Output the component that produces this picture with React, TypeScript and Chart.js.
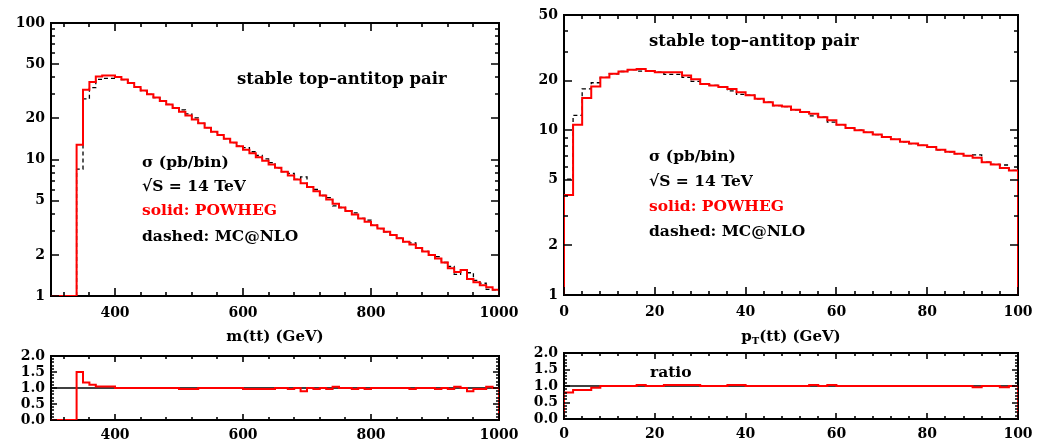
import React, { useEffect, useRef } from "react";
import { Chart, registerables } from "chart.js";
Chart.register(...registerables);

// ---------------- data ----------------
const MTT_BIN_LOW = [340, 350, 360, 370, 380, 390, 400, 410, 420, 430, 440, 450, 460, 470, 480, 490, 500, 510, 520, 530, 540, 550, 560, 570, 580, 590, 600, 610, 620, 630, 640, 650, 660, 670, 680, 690, 700, 710, 720, 730, 740, 750, 760, 770, 780, 790, 800, 810, 820, 830, 840, 850, 860, 870, 880, 890, 900, 910, 920, 930, 940, 950, 960, 970, 980, 990];
const MTT_POWHEG = [12.8, 32.5, 37.0, 40.5, 41.3, 41.3, 40.3, 38.5, 36.3, 34.0, 32.0, 30.0, 28.4, 26.8, 25.3, 23.8, 22.4, 21.0, 19.6, 18.4, 17.1, 16.0, 15.1, 14.2, 13.3, 12.5, 11.8, 11.1, 10.4, 9.8, 9.2, 8.7, 8.15, 7.65, 7.15, 6.7, 6.3, 5.85, 5.45, 5.1, 4.75, 4.45, 4.2, 3.95, 3.7, 3.5, 3.3, 3.12, 2.95, 2.8, 2.65, 2.5, 2.38, 2.25, 2.12, 2.0, 1.88, 1.76, 1.6, 1.5, 1.55, 1.33, 1.26, 1.2, 1.16, 1.11];
const MTT_MCNLO = [8.5, 27.8, 33.6, 38.6, 39.3, 39.3, 40.3, 38.5, 36.3, 34.0, 32.0, 30.0, 28.4, 26.8, 25.3, 23.8, 23.1, 21.6, 20.2, 18.4, 17.1, 16.0, 15.1, 14.2, 13.3, 12.5, 12.2, 11.4, 10.7, 10.1, 9.5, 8.7, 8.15, 7.9, 7.15, 7.45, 6.3, 6.03, 5.45, 5.26, 4.57, 4.45, 4.2, 4.07, 3.7, 3.6, 3.3, 3.12, 2.95, 2.8, 2.65, 2.5, 2.45, 2.25, 2.12, 2.0, 1.94, 1.76, 1.65, 1.44, 1.55, 1.48, 1.3, 1.24, 1.12, 1.11];
const MTT_RATIO = [1.5, 1.17, 1.1, 1.05, 1.05, 1.05, 1.0, 1.0, 1.0, 1.0, 1.0, 1.0, 1.0, 1.0, 1.0, 1.0, 0.97, 0.97, 0.97, 1.0, 1.0, 1.0, 1.0, 1.0, 1.0, 1.0, 0.97, 0.97, 0.97, 0.97, 0.97, 1.0, 1.0, 0.97, 1.0, 0.9, 1.0, 0.97, 1.0, 0.97, 1.04, 1.0, 1.0, 0.97, 1.0, 0.97, 1.0, 1.0, 1.0, 1.0, 1.0, 1.0, 0.97, 1.0, 1.0, 1.0, 0.97, 1.0, 0.97, 1.04, 1.0, 0.9, 0.97, 0.97, 1.04, 1.0];

const PT_BIN_LOW = [0, 2, 4, 6, 8, 10, 12, 14, 16, 18, 20, 22, 24, 26, 28, 30, 32, 34, 36, 38, 40, 42, 44, 46, 48, 50, 52, 54, 56, 58, 60, 62, 64, 66, 68, 70, 72, 74, 76, 78, 80, 82, 84, 86, 88, 90, 92, 94, 96, 98];
const PT_POWHEG = [4.05, 10.8, 15.7, 18.4, 20.9, 22.0, 22.7, 23.3, 23.5, 22.9, 22.5, 22.5, 22.5, 21.5, 20.4, 19.1, 18.7, 18.3, 17.8, 17.0, 16.3, 15.5, 14.8, 14.1, 13.9, 13.3, 12.9, 12.6, 12.0, 11.5, 10.8, 10.3, 10.0, 9.7, 9.4, 9.1, 8.8, 8.5, 8.3, 8.1, 7.9, 7.6, 7.4, 7.2, 7.0, 6.8, 6.4, 6.2, 5.9, 5.7];
const PT_MCNLO = [5.05, 12.3, 17.8, 19.4, 20.9, 22.0, 22.7, 23.3, 22.8, 22.9, 22.5, 21.8, 21.8, 20.9, 19.8, 19.1, 18.7, 18.3, 17.3, 16.5, 16.3, 15.5, 14.8, 14.1, 13.9, 13.3, 12.9, 12.2, 12.0, 11.2, 10.8, 10.3, 10.0, 9.7, 9.4, 9.1, 8.8, 8.5, 8.3, 8.1, 7.9, 7.6, 7.4, 7.2, 7.0, 7.08, 6.4, 6.2, 6.15, 5.7];
const PT_RATIO = [0.8, 0.88, 0.88, 0.95, 1.0, 1.0, 1.0, 1.0, 1.03, 1.0, 1.0, 1.03, 1.03, 1.03, 1.03, 1.0, 1.0, 1.0, 1.03, 1.03, 1.0, 1.0, 1.0, 1.0, 1.0, 1.0, 1.0, 1.03, 1.0, 1.03, 1.0, 1.0, 1.0, 1.0, 1.0, 1.0, 1.0, 1.0, 1.0, 1.0, 1.0, 1.0, 1.0, 1.0, 1.0, 0.96, 1.0, 1.0, 0.96, 1.0];

const MTT_TICKS = [400, 600, 800, 1000];
const MTT_MINOR = [320, 360, 440, 480, 520, 560, 640, 680, 720, 760, 840, 880, 920, 960];
const PT_TICKS = [0, 20, 40, 60, 80, 100];
const PT_MINOR = [4, 8, 12, 16, 24, 28, 32, 36, 44, 48, 52, 56, 64, 68, 72, 76, 84, 88, 92, 96];
const LOG_TICKS_LEFT = [1, 2, 5, 10, 20, 50, 100];
const LOG_TICKS_RIGHT = [1, 2, 5, 10, 20, 50];
const LOG_MINOR = [3, 4, 6, 7, 8, 9, 30, 40, 60, 70, 80, 90];
const RATIO_TICKS = [0, 0.5, 1, 1.5, 2];
const RATIO_MINOR = [0.1, 0.2, 0.3, 0.4, 0.6, 0.7, 0.8, 0.9, 1.1, 1.2, 1.3, 1.4, 1.6, 1.7, 1.8, 1.9];

// ---------------- helpers ----------------
const FONT = '"DejaVu Serif", "Liberation Serif", serif';
const RED = "#ff0000";

function histPoints(lows: number[], vals: number[], lo: number, hi: number, floor: number) {
  const pts = [{ x: lo, y: floor }];
  lows.forEach((x, i) => pts.push({ x, y: vals[i] }));
  pts.push({ x: hi, y: floor });
  return pts;
}

type PanelSpec = {
  datasets: any[];
  xMin: number; xMax: number; xTicks: number[]; xMinor: number[];
  yLog: boolean; yMin: number; yMax: number; yTicks: number[]; yMinor: number[];
  yFmt: (v: number) => string;
  yWidth: number; xHeight: number;
  padding: { top: number; right: number; left: number; bottom: number };
  xPad: number; yPad: number; majorLen: number; minorLen: number;
  tickSize: number;
  texts?: any[]; title?: any[]; titleDy?: number;
};

function makeFramePlugin(s: PanelSpec) {
  return {
    id: "frameTicks",
    beforeDatasetsDraw(chart: any) {
      const { ctx, chartArea: a } = chart;
      ctx.save();
      ctx.strokeStyle = "#000";
      ctx.lineWidth = 2;
      ctx.strokeRect(a.left, a.top, a.right - a.left, a.bottom - a.top);
      ctx.restore();
    },
    afterDraw(chart: any) {
      const { ctx, chartArea: a } = chart;
      const xs = chart.scales.x, ys = chart.scales.y;
      ctx.save();
      ctx.setLineDash([]);
      ctx.strokeStyle = "#000";
      ctx.lineWidth = 1.6;
      ctx.beginPath();
      const tx = (vals: number[], len: number) => {
        for (const v of vals) {
          if (v < s.xMin || v > s.xMax) continue;
          const p = Math.round(xs.getPixelForValue(v));
          ctx.moveTo(p, a.bottom); ctx.lineTo(p, a.bottom - len);
          ctx.moveTo(p, a.top); ctx.lineTo(p, a.top + len);
        }
      };
      const ty = (vals: number[], len: number) => {
        for (const v of vals) {
          if (v < s.yMin || v > s.yMax) continue;
          const p = Math.round(ys.getPixelForValue(v));
          ctx.moveTo(a.left, p); ctx.lineTo(a.left + len, p);
          ctx.moveTo(a.right, p); ctx.lineTo(a.right - len, p);
        }
      };
      tx(s.xTicks, s.majorLen); tx(s.xMinor, s.minorLen);
      ty(s.yTicks, s.majorLen); ty(s.yMinor, s.minorLen);
      ctx.stroke();

      ctx.textBaseline = "middle";
      ctx.textAlign = "left";
      for (const t of s.texts || []) {
        ctx.font = `bold ${t.size || 15.5}px ${FONT}`;
        ctx.fillStyle = t.color || "#000";
        ctx.fillText(t.text, a.left + t.dx, a.top + t.dy);
      }
      if (s.title) {
        const parts = s.title as { text: string; sub?: boolean }[];
        const big = `bold 15px ${FONT}`, small = `bold 10px ${FONT}`;
        let w = 0;
        parts.forEach((p) => { ctx.font = p.sub ? small : big; w += ctx.measureText(p.text).width; });
        let x = (a.left + a.right) / 2 - w / 2;
        const y = a.bottom + (s.titleDy || 0);
        ctx.fillStyle = "#000";
        parts.forEach((p) => {
          ctx.font = p.sub ? small : big;
          ctx.fillText(p.text, x, p.sub ? y + 4 : y);
          x += ctx.measureText(p.text).width;
        });
      }
      ctx.restore();
    },
  };
}

function buildConfig(s: PanelSpec): any {
  const tickFont = { family: FONT, size: s.tickSize, weight: "bold" as const };
  return {
    type: "line",
    data: { datasets: s.datasets },
    plugins: [makeFramePlugin(s)],
    options: {
      animation: false,
      responsive: false,
      maintainAspectRatio: false,
      layout: { padding: s.padding },
      elements: { point: { radius: 0 } },
      plugins: {
        legend: { display: false },
        tooltip: { enabled: false },
      },
      scales: {
        x: {
          type: "linear", min: s.xMin, max: s.xMax,
          grid: { display: false, drawTicks: false },
          border: { display: false },
          afterBuildTicks: (sc: any) => { sc.ticks = s.xTicks.map((v) => ({ value: v })); },
          afterFit: (sc: any) => { sc.height = s.xHeight; sc.paddingLeft = 0; sc.paddingRight = 0; },
          ticks: { padding: s.xPad, font: tickFont, color: "#000", autoSkip: false, maxRotation: 0, callback: (v: number) => String(v) },
        },
        y: {
          type: s.yLog ? "logarithmic" : "linear", min: s.yMin, max: s.yMax,
          grid: { display: false, drawTicks: false },
          border: { display: false },
          afterBuildTicks: (sc: any) => { sc.ticks = s.yTicks.map((v) => ({ value: v })); },
          afterFit: (sc: any) => { sc.width = s.yWidth; sc.paddingTop = 0; sc.paddingBottom = 0; },
          ticks: { padding: s.yPad, font: tickFont, color: "#000", autoSkip: false, callback: (v: number) => s.yFmt(v) },
        },
      },
    },
  };
}

function Panel({ spec, left, top, width, height }: { spec: PanelSpec; left: number; top: number; width: number; height: number }) {
  const ref = useRef<HTMLCanvasElement>(null);
  useEffect(() => {
    const chart = new Chart(ref.current as HTMLCanvasElement, buildConfig(spec));
    return () => chart.destroy();
  }, []);
  return <canvas ref={ref} width={width} height={height} style={{ position: "absolute", left, top, width, height }} />;
}

const redLine = (data: any[]) => ({ data, borderColor: RED, borderWidth: 2, stepped: "before", pointRadius: 0, fill: false, order: 0 });
const dashLine = (data: any[]) => ({ data, borderColor: "#000", borderWidth: 1.3, borderDash: [4, 3], stepped: "before", pointRadius: 0, fill: false, order: 1 });
const refLine = (a: number, b: number) => ({ data: [{ x: a, y: 1 }, { x: b, y: 1 }], borderColor: "#000", borderWidth: 1.3, pointRadius: 0, fill: false, order: 2 });

const legendTexts = (dx: number, dy0: number, step: number[]) => [
  { text: "σ (pb/bin)", dx, dy: dy0 },
  { text: "√S = 14 TeV", dx, dy: dy0 + step[0] },
  { text: "solid: POWHEG", dx, dy: dy0 + step[1], color: RED },
  { text: "dashed: MC@NLO", dx, dy: dy0 + step[2] },
];

export default function App() {
  const mainL: PanelSpec = {
    datasets: [
      redLine(histPoints(MTT_BIN_LOW, MTT_POWHEG, 300, 1000, 1)),
      dashLine(histPoints(MTT_BIN_LOW, MTT_MCNLO, 340, 1000, 1)),
    ],
    xMin: 300, xMax: 1000, xTicks: MTT_TICKS, xMinor: MTT_MINOR,
    yLog: true, yMin: 1, yMax: 100, yTicks: LOG_TICKS_LEFT, yMinor: LOG_MINOR,
    yFmt: (v) => String(v),
    yWidth: 51, xHeight: 49, padding: { top: 23, right: 21, left: 0, bottom: 0 },
    xPad: 9, yPad: 6, majorLen: 8, minorLen: 4, tickSize: 14,
    texts: [{ text: "stable top\u2013antitop pair", dx: 186, dy: 57, size: 16.5 }, ...legendTexts(91, 140, [24, 48, 74])],
    title: [{ text: "m(tt) (GeV)" }], titleDy: 41,
  };
  const mainR: PanelSpec = {
    datasets: [
      redLine(histPoints(PT_BIN_LOW, PT_POWHEG, 0, 100, 1)),
      dashLine(histPoints(PT_BIN_LOW, PT_MCNLO, 0, 100, 1)),
    ],
    xMin: 0, xMax: 100, xTicks: PT_TICKS, xMinor: PT_MINOR,
    yLog: true, yMin: 1, yMax: 50, yTicks: LOG_TICKS_RIGHT, yMinor: LOG_MINOR,
    yFmt: (v) => String(v),
    yWidth: 44, xHeight: 50, padding: { top: 15, right: 27, left: 0, bottom: 0 },
    xPad: 9, yPad: 6, majorLen: 8, minorLen: 4, tickSize: 14,
    texts: [{ text: "stable top\u2013antitop pair", dx: 85, dy: 27, size: 16.5 }, ...legendTexts(85, 142, [25, 50, 75])],
    title: [{ text: "p" }, { text: "T", sub: true }, { text: "(tt) (GeV)" }], titleDy: 42,
  };
  const ratioL: PanelSpec = {
    datasets: [
      redLine(histPoints(MTT_BIN_LOW, MTT_RATIO, 300, 1000, 0)),
      refLine(300, 1000),
    ],
    xMin: 300, xMax: 1000, xTicks: MTT_TICKS, xMinor: MTT_MINOR,
    yLog: false, yMin: 0, yMax: 2, yTicks: RATIO_TICKS, yMinor: RATIO_MINOR,
    yFmt: (v) => v.toFixed(1),
    yWidth: 51, xHeight: 27, padding: { top: 11, right: 21, left: 0, bottom: 0 },
    xPad: 7, yPad: 6, majorLen: 6, minorLen: 3, tickSize: 14,
  };
  const ratioR: PanelSpec = {
    datasets: [
      redLine(histPoints(PT_BIN_LOW, PT_RATIO, 0, 100, 0)),
      refLine(0, 100),
    ],
    xMin: 0, xMax: 100, xTicks: PT_TICKS, xMinor: PT_MINOR,
    yLog: false, yMin: 0, yMax: 2, yTicks: RATIO_TICKS, yMinor: RATIO_MINOR,
    yFmt: (v) => v.toFixed(1),
    yWidth: 44, xHeight: 28, padding: { top: 8, right: 27, left: 0, bottom: 0 },
    xPad: 7, yPad: 6, majorLen: 6, minorLen: 3, tickSize: 14,
    texts: [{ text: "ratio", dx: 86, dy: 20 }],
  };
  return (
    <div style={{ position: "absolute", left: 0, top: 0, width: 1045, height: 447, background: "#fff", overflow: "hidden" }}>
      <Panel spec={mainL} left={0} top={0} width={520} height={345} />
      <Panel spec={mainR} left={520} top={0} width={525} height={345} />
      <Panel spec={ratioL} left={0} top={345} width={520} height={102} />
      <Panel spec={ratioR} left={520} top={345} width={525} height={102} />
    </div>
  );
}
